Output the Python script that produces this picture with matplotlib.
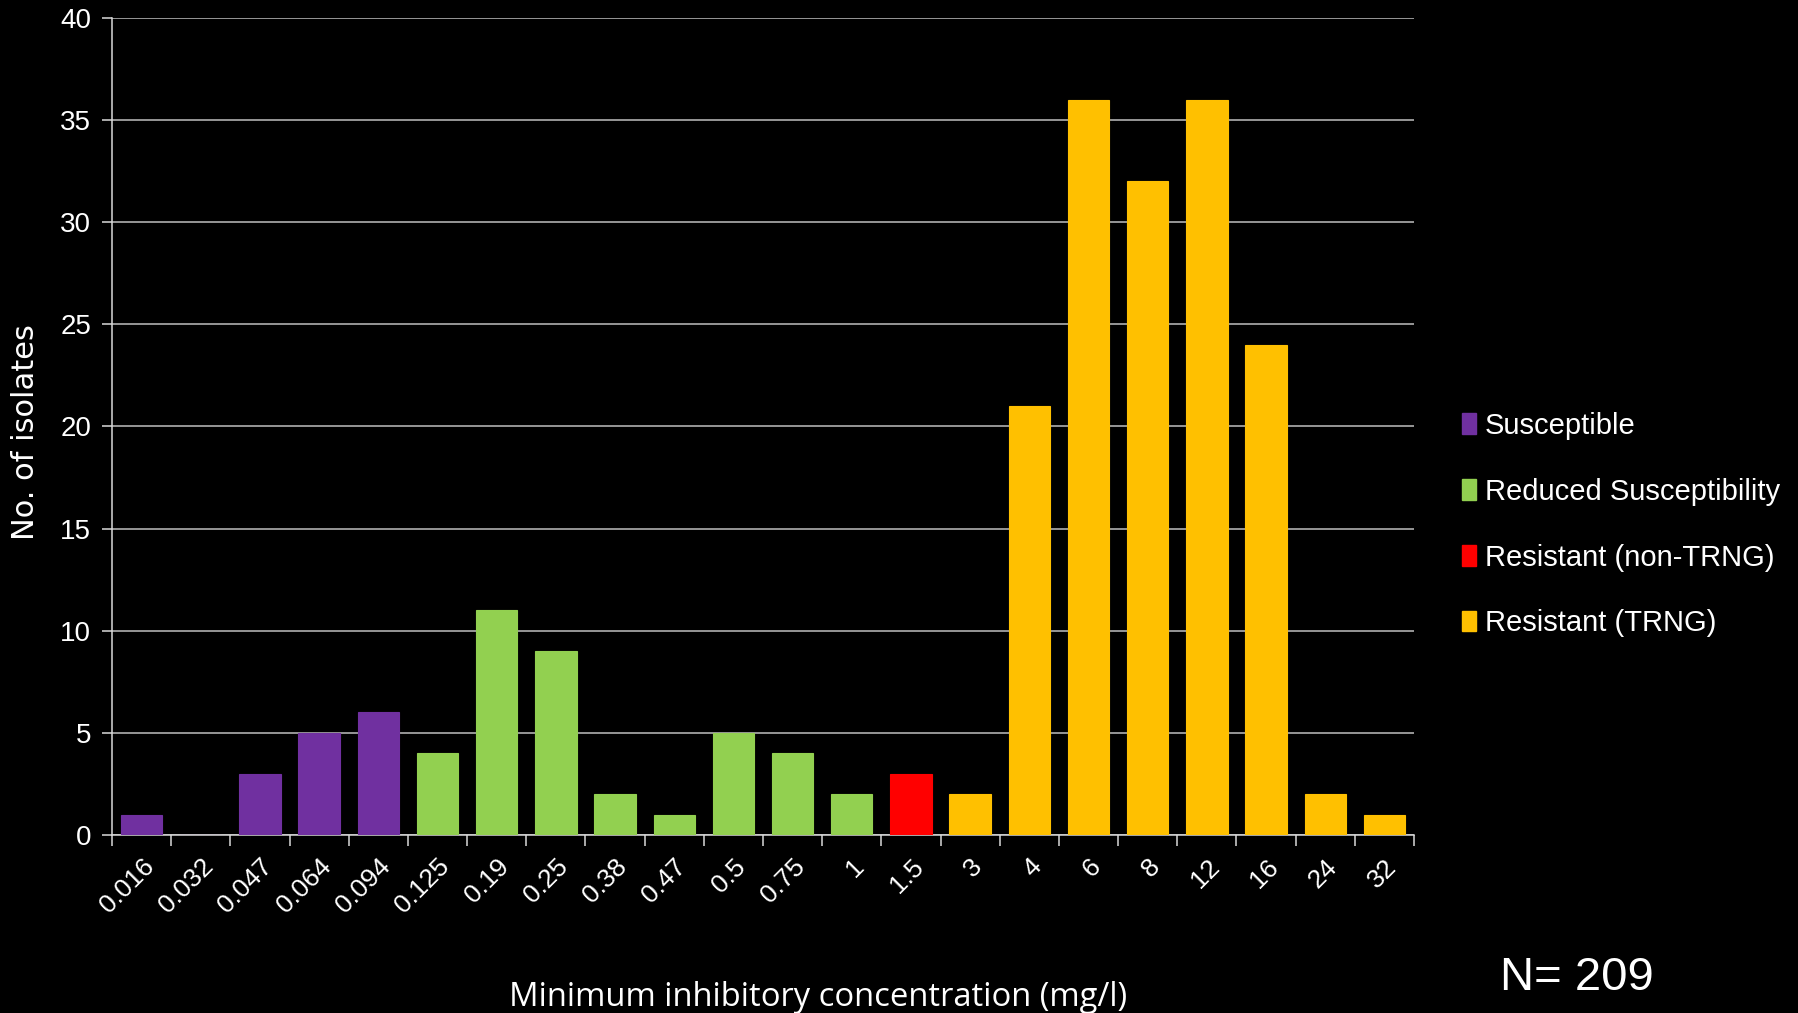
import matplotlib
matplotlib.use("Agg")
import matplotlib.pyplot as plt
from matplotlib.patches import Patch

# MIC categories (mg/l) and isolate counts
mic_labels = ["0.016", "0.032", "0.047", "0.064", "0.094", "0.125", "0.19", "0.25",
              "0.38", "0.47", "0.5", "0.75", "1", "1.5", "3", "4", "6", "8",
              "12", "16", "24", "32"]
counts = [1, 0, 3, 5, 6, 4, 11, 9, 2, 1, 5, 4, 2, 3, 2, 21, 36, 32, 36, 24, 2, 1]
groups = ["S", "S", "S", "S", "S", "RS", "RS", "RS", "RS", "RS", "RS", "RS", "RS",
          "RN", "RT", "RT", "RT", "RT", "RT", "RT", "RT", "RT"]

group_names = {"S": "Susceptible", "RS": "Reduced Susceptibility",
               "RN": "Resistant (non-TRNG)", "RT": "Resistant (TRNG)"}
group_colors = {"S": "#7030A0", "RS": "#92D050", "RN": "#FF0000", "RT": "#FFC000"}
total_n = 209

sans = ["Liberation Sans", "DejaVu Sans"]

fig = plt.figure(figsize=(17.98, 10.13), dpi=100, facecolor="black")
ax = fig.add_axes([112 / 1798, 1 - 835 / 1013, (1414 - 112) / 1798, (835 - 18) / 1013])
ax.set_facecolor("black")

x = list(range(len(counts)))
colors = [group_colors[g] for g in groups]
ax.bar(x, counts, width=0.7, color=colors, edgecolor=colors, linewidth=0.8, zorder=3)

ax.set_xlim(-0.5, len(counts) - 0.5)
ax.set_ylim(0, 40)
ax.set_yticks(range(0, 41, 5))
ax.yaxis.grid(True, color="#BFBFBF", linewidth=1.1, zorder=0)
ax.set_axisbelow(True)

for side in ("top", "right"):
    ax.spines[side].set_visible(False)
for side in ("left", "bottom"):
    ax.spines[side].set_color("#D9D9D9")
    ax.spines[side].set_linewidth(1.1)

# Category labels at bar centres, tick marks at category boundaries
ax.set_xticks(x)
ax.set_xticklabels(mic_labels, rotation=45, ha="right", va="top",
                   rotation_mode="anchor", family=sans, fontsize=19, color="white")
ax.tick_params(axis="x", which="major", length=0, pad=14)
ax.set_xticks([i - 0.5 for i in range(len(counts) + 1)], minor=True)
ax.tick_params(axis="x", which="minor", length=8, color="#D9D9D9", width=1.1)
ax.tick_params(axis="y", length=7, color="#D9D9D9", width=1.1, labelcolor="white",
               labelsize=20, pad=8)
for lbl in ax.get_yticklabels():
    lbl.set_family(sans)

fig.text(26 / 1798, 1 - 432 / 1013, "No. of isolates", color="white", fontsize=22,
         family="DejaVu Sans", rotation=90, ha="center", va="center")
fig.text(818 / 1798, 1 - 997 / 1013, "Minimum inhibitory concentration (mg/l)",
         color="white", fontsize=23.6, family=["Open Sans", "DejaVu Sans"],
         ha="center", va="center")

handles = [Patch(facecolor=group_colors[k], edgecolor=group_colors[k], label=group_names[k])
           for k in ["S", "RS", "RN", "RT"]]
fig.legend(handles=handles, loc="upper left", bbox_to_anchor=(1450 / 1798, 1 - 400 / 1013),
           frameon=False, labelcolor="white", prop={"family": sans, "size": 21},
           handlelength=0.5, handleheight=0.7, handletextpad=0.3, labelspacing=1.3,
           borderaxespad=0)

fig.text(1500 / 1798, 1 - 978 / 1013, f"N= {total_n}", color="white", fontsize=34,
         family=sans, ha="left", va="center")

fig.savefig("out.png", dpi=100, facecolor="black")
